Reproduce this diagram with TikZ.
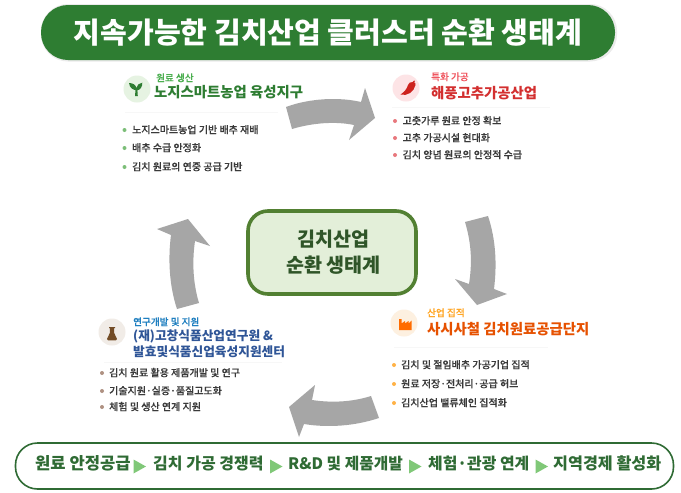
\documentclass[tikz,border=0pt]{standalone}
\usepackage{fontspec}
\setmainfont{Noto Sans CJK KR}
\newfontfamily\krm[FakeBold=0.25]{Noto Sans CJK KR Medium}
\definecolor{titlegreen}{HTML}{2E7D32}
\definecolor{pillgreen}{HTML}{2F6B34}
\definecolor{arrowgrey}{HTML}{A6A6A6}
\definecolor{bodyink}{HTML}{3A3A3A}
\definecolor{rule}{HTML}{F7F7F7}
\definecolor{hubline}{RGB}{82,128,50}
\definecolor{hubfill}{RGB}{227,239,217}
\definecolor{hubtext}{RGB}{47,85,40}
\definecolor{trigreen}{RGB}{128,200,120}
\tikzset{
  txt/.style={anchor=west,inner sep=0pt,text height=.78em,text depth=.1em},
  kicker/.style={txt,font=\krm\fontsize{9.6}{11}\selectfont},
  head/.style={txt,font=\bfseries\fontsize{14.4}{16}\selectfont},
  headsmall/.style={txt,font=\bfseries\fontsize{12.7}{15}\selectfont},
  itemtext/.style={txt,text=bodyink,font=\krm\fontsize{10}{12}\selectfont},
  band/.style={txt,text=pillgreen,font=\bfseries\fontsize{#1}{18}\selectfont},
  dot/.style={circle,inner sep=0pt,minimum size=4pt},
  badge/.style={circle,inner sep=0pt,minimum size=27pt},
  flow/.style={fill=arrowgrey,draw=none},
  sep/.style={draw=rule,line width=.6pt},
  tri/.style={fill=trigreen,draw=none}
}
\begin{document}
\begin{tikzpicture}[x=1pt,y=-1pt]
\useasboundingbox (0,0) rectangle (681,493);
\fill[white] (0,0) rectangle (681,493);
% title
\fill[black!8,rounded corners=27pt] (41,4) rectangle (617,61.5);
\node[draw=none,fill=titlegreen,rounded corners=27pt,minimum width=574pt,minimum height=55pt,inner sep=0pt,text=white,font=\bfseries\fontsize{29.1}{32}\selectfont] (title) at (328,32.5) {지속가능한 김치산업 클러스터 순환 생태계};
% centre
\node[draw=hubline,line width=3.6pt,fill=hubfill,rounded corners=20pt,minimum width=168pt,minimum height=83pt,inner sep=0pt] (hub) at (332,252.5) {};
\node[inner sep=0pt,align=center,text=hubtext,font=\bfseries\fontsize{19.6}{25.5}\selectfont] (hubtxt) at (333.5,252) {김치산업\\순환 생태계};
% flow arrows
\path[flow] (286,107) .. controls (310,98) and (340,97) .. (361,102) -- (365,88) -- (375,118) -- (349,140) -- (354,125) .. controls (335,121) and (312,123) .. (292,129) -- cycle;
\path[flow] (465,222) .. controls (472,245) and (472,265) .. (469,284) -- (455,279) -- (477,305) -- (507,294) -- (494,289) .. controls (497,265) and (496,240) .. (488,216) -- cycle;
\path[flow] (371,396) .. controls (352,402) and (332,403) .. (312,400) -- (315,385) -- (289,407) -- (299,437) -- (304,424) .. controls (328,428) and (355,426) .. (379,418) -- cycle;
\path[flow] (177,309) .. controls (169,285) and (168,258) .. (171,235) -- (157,229) -- (188,219) -- (210,246) -- (195,241) .. controls (192,262) and (193,283) .. (199,303) -- cycle;
% card 1
\definecolor{cc}{RGB}{230,243,226}
\node[badge,fill=cc] (b1) at (137,89) {};
\fill[titlegreen] (135.1,96) -- (135.4,90) .. controls (134,90) and (129.5,88.5) .. (129,83) .. controls (133,83) and (136,85) .. (136.4,88) .. controls (137,85) and (139,83) .. (142.3,82.7) .. controls (142.5,87) and (140,90) .. (137.4,90.3) -- (137.8,96) -- cycle;
\definecolor{cc}{RGB}{76,175,80}
\node[kicker,text=cc] (k1) at (156,78) {원료 생산};
\node[head,text=titlegreen] (h1) at (154,94) {노지스마트농업 육성지구};
\draw[sep] (125,112) -- (278,112);
\definecolor{cc}{RGB}{124,190,120}
\foreach \n/\y/\t in {1/130/노지스마트농업 기반 배추 재배,2/148/배추 수급 안정화,3/167/김치 원료의 연중 공급 기반}{
  \node[dot,fill=cc] (a\n) at (124.5,\y) {};
  \node[itemtext] (at\n) at (132,\y) {\t};
}
% card 2
\definecolor{cc}{RGB}{253,228,230}
\node[badge,fill=cc] (b2) at (406,88) {};
\definecolor{cc}{RGB}{205,35,30}
\fill[cc] (400.5,94.5) .. controls (407,96.5) and (414,92) .. (415.5,85) .. controls (415.8,83.5) and (415,82.5) .. (414,82.3) -- (415.2,81) -- (414,80.5) -- (412.6,82) .. controls (410.5,81.8) and (408.5,83) .. (408,85) .. controls (407,88.5) and (404.5,92) .. (400.5,94.5) -- cycle;
\definecolor{cc}{RGB}{240,85,95}
\node[kicker,text=cc] (k2) at (431,77) {특화 가공};
\definecolor{cc}{RGB}{211,47,47}
\node[head,text=cc] (h2) at (431,95) {해풍고추가공산업};
\draw[sep] (392,107) -- (550,107);
\definecolor{cc}{RGB}{232,120,125}
\foreach \n/\y/\t in {1/121/고춧가루 원료 안정 확보,2/138/고추 가공시설 현대화,3/155/김치 양념 원료의 안정적 수급}{
  \node[dot,fill=cc] (c\n) at (395,\y) {};
  \node[itemtext] (ct\n) at (402.5,\y) {\t};
}
% card 3
\definecolor{cc}{RGB}{241,236,231}
\node[badge,fill=cc] (b3) at (112,332) {};
\fill[brown!60!black] (109,327) -- (115,327) -- (115,328) -- (114.2,328) -- (114.2,333) -- (117,339) .. controls (117.3,340) and (116.8,340.3) .. (116,340.3) -- (108,340.3) .. controls (107.2,340.3) and (106.7,340) .. (107,339) -- (109.8,333) -- (109.8,328) -- (109,328) -- cycle;
\definecolor{cc}{RGB}{31,127,192}
\node[kicker,text=cc] (k3) at (133,322) {연구개발 및 지원};
\definecolor{cc}{RGB}{47,85,151}
\node[headsmall,text=cc] (h3a) at (133,337) {(재)고창식품산업연구원 \&};
\node[headsmall,text=cc] (h3b) at (133,353) {발효및식품신업육성지원센터};
\draw[sep] (104,362) -- (282,362);
\definecolor{cc}{RGB}{175,145,130}
\foreach \n/\y/\t in {1/373/김치 원료 활용 제품개발 및 연구,2/391/기술지원·실증·품질고도화,3/407/체험 및 생산 연계 지원}{
  \node[dot,fill=cc] (d\n) at (102,\y) {};
  \node[itemtext] (dt\n) at (109,\y) {\t};
}
% card 4
\definecolor{cc}{RGB}{253,240,224}
\node[badge,fill=cc] (b4) at (404,323) {};
\fill[orange!85!red] (399,330) -- (399,319) -- (401.5,319) -- (401.5,323.5) -- (405,321) -- (405,323.5) -- (408.5,321) -- (408.5,323.5) -- (411.5,320.5) -- (411.5,330) -- cycle;
\definecolor{cc}{RGB}{255,167,38}
\node[kicker,text=cc] (k4) at (427,313) {산업 집적};
\definecolor{cc}{RGB}{230,81,0}
\node[head,text=cc] (h4) at (427,331) {사시사철 김치원료공급단지};
\draw[sep] (394,347) -- (548,347);
\definecolor{cc}{RGB}{255,178,70}
\foreach \n/\y/\t in {1/365/김치 및 절임배추 가공기업 집적,2/384/원료 저장·전처리·공급 허브,3/403/김치산업 밸류체인 집적화}{
  \node[dot,fill=cc] (e\n) at (394,\y) {};
  \node[itemtext] (et\n) at (401,\y) {\t};
}
% bottom band
\node[draw=pillgreen,line width=1.6pt,fill=white,rounded corners=22pt,minimum width=658pt,minimum height=46pt,inner sep=0pt] (bandbox) at (344.5,466) {};
\node[band=16.6] (s1) at (35,466.5) {원료 안정공급};
\node[band=16] (s2) at (153,466.5) {김치 가공 경쟁력};
\node[band=15.8] (s3) at (288,466.5) {R\&D 및 제품개발};
\node[band=15.9] (s4) at (428,466.5) {체험·관광 연계};
\node[band=16.2] (s5) at (553,466.5) {지역경제 활성화};
\foreach \x in {133.5,270,409,535.5}{
  \path[tri] (\x,459.5) -- (\x+12.5,466.5) -- (\x,473.5) -- cycle;
}
\end{tikzpicture}
\end{document}
